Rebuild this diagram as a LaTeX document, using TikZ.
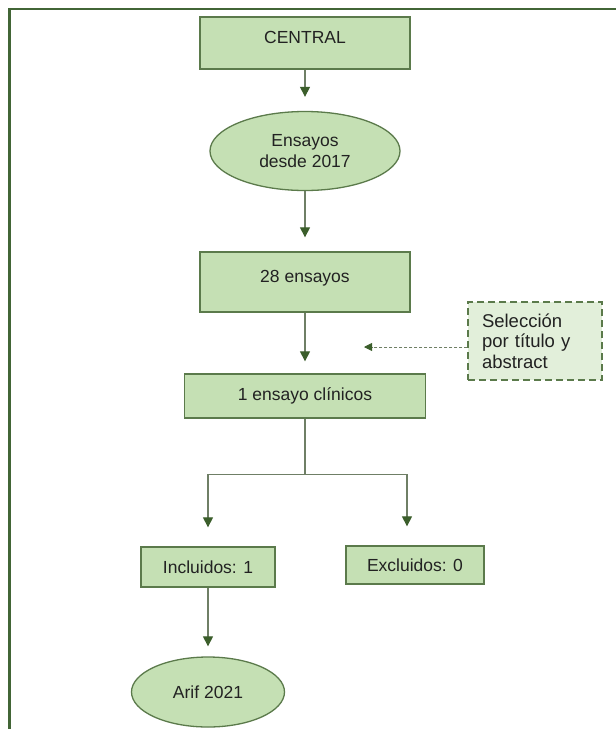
\documentclass[tikz,border=0pt]{standalone}
\usepackage{fontspec}
\setmainfont{Liberation Sans}
\usepackage{xcolor}
\usetikzlibrary{arrows.meta}
\usetikzlibrary{calc}
\usetikzlibrary{shapes.geometric}

\definecolor{boxfill}{HTML}{C5E0B4}
\definecolor{notefill}{HTML}{E2EFDA}
\definecolor{boxline}{HTML}{5B7A4B}
\definecolor{tipgreen}{HTML}{3B5E2B}
\definecolor{wire}{HTML}{6F7F66}
\definecolor{framegreen}{HTML}{426536}
\definecolor{ink}{HTML}{222222}

\begin{document}
\begin{tikzpicture}[x=1pt, y=-1pt,
    every node/.style={font=\fontsize{17.5}{20.5}\selectfont, text=ink},
    box/.style={draw=boxline, line width=1.3pt, fill=boxfill, inner sep=0pt},
    oval/.style={ellipse, draw=boxline, line width=1.3pt, fill=boxfill, inner sep=0pt, align=center},
    note/.style={draw=boxline, line width=1.3pt, dash pattern=on 7pt off 4pt, fill=notefill, inner sep=0pt, align=left},
    link/.style={draw=wire, line width=1.1pt},
    arr/.style={link, -{Triangle[length=10pt, width=10pt, color=tipgreen]}},
    darr/.style={draw=wire, line width=0.9pt, dash pattern=on 3pt off 2pt, -{Triangle[length=8pt, width=8pt, color=tipgreen]}}
  ]
  \useasboundingbox (0,0) rectangle (616,729);
  % marco
  \draw[framegreen, line width=2.6pt] (616,9) -- (9.5,9) -- (9.5,729);

  \node[box, minimum width=210pt, minimum height=52pt, text height=12pt, text depth=12pt] (central) at (305,43) {CENTRAL};
  \node[oval, minimum width=190pt, minimum height=79pt] (ensayos) at (305,151) {Ensayos\\desde 2017};
  \node[box, minimum width=210pt, minimum height=60pt, text height=12pt, text depth=12pt] (ensayos28) at (305,282) {28 ensayos};
  \node[note, minimum width=134pt, minimum height=78pt, text width=106pt, font=\fontsize{18.5}{20.5}\selectfont] (seleccion) at (535,341) {Selección\\por título y\\abstract};
  \node[box, minimum width=241pt, minimum height=44pt] (uno) at (305,396) {1 ensayo clínicos};
  \node[box, minimum width=134pt, minimum height=40pt] (incluidos) at (208,567) {Incluidos: 1};
  \node[box, minimum width=138pt, minimum height=38pt] (excluidos) at (415,565) {Excluidos: 0};
  \node[oval, minimum width=153pt, minimum height=70pt] (arif) at (208,692) {Arif 2021};

  \draw[arr, shorten >=14pt] (central) -- (ensayos);
  \draw[arr, shorten >=14pt] (ensayos) -- (ensayos28);
  \draw[arr, shorten >=12pt] (ensayos28) -- (uno);

  \coordinate (selpunta) at (364,347);
  \draw[darr] (seleccion.west |- selpunta) -- (selpunta);

  % ramas
  \draw[link] (uno.south) -- ++(0,56) coordinate (reparto);
  \draw[arr, shorten >=19pt] (reparto) -| (incluidos.north);
  \draw[arr, shorten >=19pt] (reparto) -| ([xshift=-8pt]excluidos.north);
  \draw[arr, shorten >=10pt] (incluidos) -- (arif);
\end{tikzpicture}
\end{document}
